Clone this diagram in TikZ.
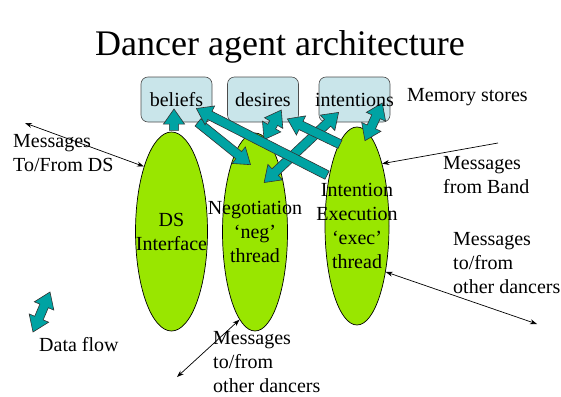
\documentclass[tikz,border=0pt]{standalone}
\usepackage{fontspec}
\setmainfont{Liberation Serif}
\usetikzlibrary{arrows.meta,calc,shapes.geometric,shapes.arrows}
\definecolor{StoreBlue}{HTML}{C9E5EA}
\definecolor{ThreadGreen}{HTML}{99E600}
\definecolor{FlowTeal}{HTML}{00A3A3}
\tikzset{store/.style={rounded corners=7pt,draw=black!70,fill=StoreBlue,line width=.6pt,minimum width=71pt,minimum height=45pt,inner sep=0pt},thread/.style={ellipse,draw=black,fill=ThreadGreen,line width=.7pt,inner sep=0pt},lbl/.style={align=center,inner sep=0pt,font=\fontsize{20}{24}\selectfont},note/.style={align=left,inner sep=0pt,font=\fontsize{20}{24}\selectfont},flowone/.style={single arrow,single arrow head extend=6pt,single arrow tip angle=70,inner sep=4.3pt,draw=black!80,fill=FlowTeal,line width=.6pt},flowtwo/.style={double arrow,double arrow head extend=6pt,double arrow tip angle=70,inner sep=4.3pt,draw=black!80,fill=FlowTeal,line width=.6pt},msg/.style={{Stealth[length=7pt,width=5pt]}-{Stealth[length=7pt,width=5pt]},line width=.7pt}}

\begin{document}
\begin{tikzpicture}[x=1pt,y=-1pt]
  \useasboundingbox (0,0) rectangle (561,396);
  \node[font=\fontsize{36}{40}\selectfont,anchor=base](title) at (280,56){Dancer agent architecture};
  % threads and memory stores
  \node[thread,minimum width=72pt,minimum height=199pt](ds) at (171.5,231.5){};
  \node[thread,minimum width=65pt,minimum height=198pt](neg) at (255,232){};
  \node[thread,minimum width=64pt,minimum height=198pt](exec) at (357,226){};
  \node[store](bel) at (176.5,99.5){};
  \node[store](des) at (263,99.5){};
  \node[store](int) at (354.5,99.5){};
  % ends of the data flows
  \coordinate (up0) at ($(ds.north)+(2.5,2)$);\coordinate (up1) at ($(bel.south)+(-2.5,-10)$);
  \coordinate (bn0) at ($(bel.south east)+(-17,-2)$);\coordinate (bn1) at ($(neg.north)+(-7,30)$);
  \coordinate (eb0) at ($(exec.north)+(-27,50)$);\coordinate (eb1) at ($(bel.east)+(-13,10.5)$);
  \coordinate (ed0) at ($(exec.north)+(-14,19)$);\coordinate (ed1) at ($(des.south east)+(-8.5,-2)$);
  \coordinate (dn0) at ($(des.east)+(-17.5,10.5)$);\coordinate (dn1) at ($(neg.north)+(9,7)$);
  \coordinate (ni0) at ($(neg.north)+(9,50)$);\coordinate (ni1) at ($(int.south west)+(20,-10)$);
  \coordinate (ie0) at ($(int.east)+(-8,3.5)$);\coordinate (ie1) at ($(exec.north)+(8,14)$);
  \coordinate (df0) at (33,332);\coordinate (df1) at (50,292);
  \foreach \ta/\tb in {dn0/dn1,ni0/ni1,ie0/ie1,df0/df1}
    \path let \p1=($(\tb)-(\ta)$),\n1={atan2(\y1,\x1)},\n2={veclen(\x1,\y1)} in
      node[flowtwo,rotate=\n1,minimum height=\n2] at ($(\ta)!.5!(\tb)$){};
  \foreach \ta/\tb in {up0/up1,bn0/bn1,ed0/ed1,eb0/eb1}
    \path let \p1=($(\tb)-(\ta)$),\n1={atan2(\y1,\x1)},\n2={veclen(\x1,\y1)} in
      node[flowone,rotate=\n1,minimum height=\n2] at ($(\ta)!.5!(\tb)$){};
  % messages
  \coordinate (dsfar) at (25,123);
  \coordinate (bandfar) at (498,143);
  \coordinate (peerfar) at (537,324);
  \coordinate (peerbfar) at (177,377);
  \draw[msg](dsfar)--(ds.113);
  \draw[-{Stealth[length=7pt,width=5pt]},line width=.7pt](bandfar)--(exec.68);
  \draw[msg](exec.-58)--(peerfar);
  \draw[msg](peerbfar)--(neg.-100);
  % texts
  \node[lbl](belt) at (bel){beliefs};
  \node[lbl](dest) at (des){desires};
  \node[lbl](intt) at (int){intentions};
  \node[lbl](dst) at (ds){DS\\Interface};
  \node[lbl](negt) at (neg){Negotiation\\‘neg’\\thread};
  \node[lbl](exect) at (exec){Intention\\Execution\\‘exec’\\thread};
  \node[note,anchor=base west](mem) at (407,101){Memory stores};
  \node[note,anchor=north west](dsmsg) at (13,134){Messages\\To/From DS};
  \node[note,anchor=north west](band) at (443,156){Messages\\from Band};
  \node[note,anchor=north west](peer) at (453,232){Messages\\to/from\\other dancers};
  \node[note,anchor=north west](peerb) at (213,331){Messages\\to/from\\other dancers};
  \node[note,anchor=base west](dfl) at (39,351){Data flow};
\end{tikzpicture}
\end{document}
